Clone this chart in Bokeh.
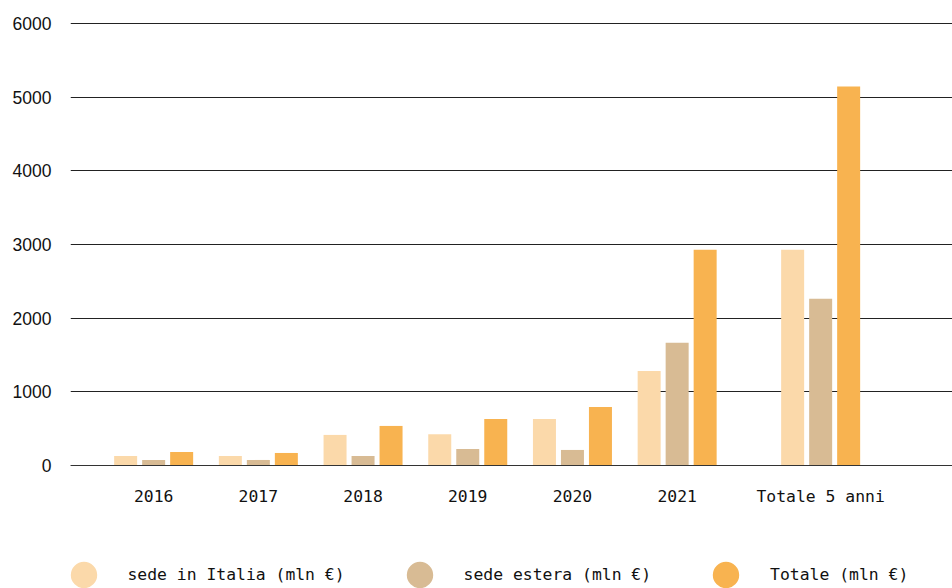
from bokeh.plotting import figure
from bokeh.models import (FactorRange, Range1d, FixedTicker, Legend, LegendItem,
                          ColumnDataSource)
from bokeh.embed import file_html
from bokeh.resources import INLINE

# ---- data -------------------------------------------------------------
categories = ["2016", "2017", "2018", "2019", "2020", "2021", "Totale 5 anni"]
sections = ["anni", "anni", "anni", "anni", "anni", "anni", "totale"]
series_keys = ["italia", "estera", "totale"]
series_labels = ["sede in Italia (mln €)", "sede estera (mln €)", "Totale (mln €)"]
series_colors = ["#FBD9AA", "#D8BB94", "#F8B350"]

italia = [129, 129, 415, 424, 632, 1284, 2929]
estera = [75, 75, 129, 224, 211, 1665, 2263]
totale = [183, 170, 537, 632, 795, 2929, 5144]

y_ticks = [0, 1000, 2000, 3000, 4000, 5000, 6000]

values = [italia, estera, totale]

# ---- ranges -----------------------------------------------------------
factors = [(sec, cat, key) for sec, cat in zip(sections, categories) for key in series_keys]
trailing = (sections[-1], "", "")
x_range = FactorRange(*factors, trailing,
                      factor_padding=0.12, subgroup_padding=0.948, group_padding=2.5,
                      range_padding=1.706, range_padding_units="absolute")

# frame reaches the bottom of the canvas so that the legend sits inside it
p = figure(x_range=x_range, y_range=Range1d(-1670, 6014),
           width=952, height=588, output_backend="svg", toolbar_location=None,
           min_border_left=70, min_border_right=0, min_border_top=22, min_border_bottom=0)

p.outline_line_color = None
p.background_fill_color = "white"
p.border_fill_color = "white"

legend_items = []
for key, label, color, vals in zip(series_keys, series_labels, series_colors, values):
    src = ColumnDataSource(dict(
        x=[(sec, cat, key) for sec, cat in zip(sections, categories)],
        top=vals,
    ))
    p.vbar(x="x", top="top", width=0.92, source=src, fill_color=color, line_color=None)
    r = p.ellipse(x="x", y="top", width=0.001, height=0.001,
                  width_units="screen", height_units="screen",
                  source=src, fill_color=color, line_color=None)
    legend_items.append(LegendItem(label=label, renderers=[r]))

# ---- axes -------------------------------------------------------------
xa = p.xaxis[0]
xa.fixed_location = 0
xa.major_label_text_color = None
xa.major_label_text_font_size = "1px"
xa.group_text_color = None
xa.group_text_font_size = "1px"
xa.separator_line_color = None
xa.major_tick_line_color = None
xa.minor_tick_line_color = None
xa.major_tick_out = 0
xa.major_tick_in = 0
xa.axis_line_color = "#333333"
xa.axis_line_width = 1
xa.major_label_standoff = 22
xa.subgroup_text_font = "DejaVu Sans Mono"
xa.subgroup_text_font_size = "16.4px"
xa.subgroup_text_font_style = "normal"
xa.subgroup_text_color = "#111111"

ya = p.yaxis[0]
ya.ticker = FixedTicker(ticks=y_ticks)
ya.axis_line_color = None
ya.major_tick_line_color = None
ya.minor_tick_line_color = None
ya.major_tick_out = 0
ya.major_tick_in = 0
ya.major_label_standoff = 19
ya.major_label_text_font = "Liberation Sans"
ya.major_label_text_font_size = "17.5px"
ya.major_label_text_color = "#111111"

p.xgrid.visible = False
p.ygrid.grid_line_color = "#222222"
p.ygrid.grid_line_width = 1

# ---- legend -----------------------------------------------------------
legend = Legend(items=legend_items, orientation="horizontal",
                location=(-3.5, -2.5), glyph_width=33, glyph_height=33,
                label_standoff=28, spacing=58, padding=0, margin=0,
                border_line_color=None, background_fill_alpha=0,
                label_text_font="DejaVu Sans Mono", label_text_font_size="16.4px",
                label_text_color="#111111")
p.add_layout(legend)

open("out.html", "w").write(file_html(p, INLINE))
